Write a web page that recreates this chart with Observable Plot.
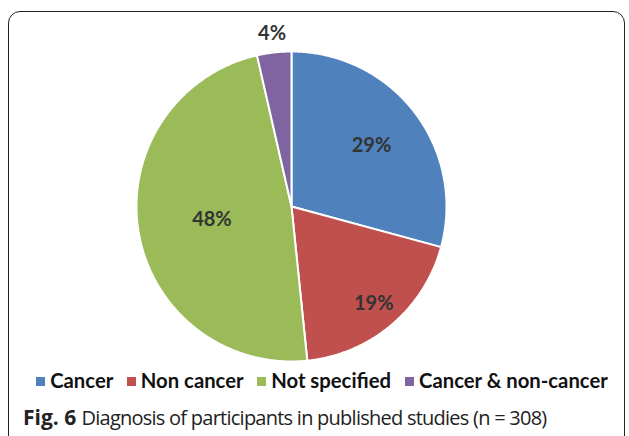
<!DOCTYPE html>
<html>
<head>
<meta charset="utf-8">
<script src="https://cdn.jsdelivr.net/npm/d3@7"></script>
<script src="https://cdn.jsdelivr.net/npm/@observablehq/plot@0.6"></script>
<style>
  html, body { margin: 0; padding: 0; background: #fff; }
  body { width: 629px; height: 436px; position: relative; overflow: hidden; }
  #frame {
    position: absolute; left: 8px; top: 11px; width: 617px; height: 440px;
    border: 1.6px solid #222; border-radius: 12px; box-sizing: border-box;
  }
  #chart { position: absolute; left: 0; top: 0; }
  #legend {
    position: absolute; left: 3px; width: 629px; top: 368px; text-align: center;
    font-family: Lato, sans-serif; font-weight: 700; font-size: 20.3px; line-height: 24px; color: #111;
    white-space: nowrap;
  }
  #legend span.sw { display: inline-block; width: 9px; height: 9px; margin: 0 5px 3px 9px; vertical-align: middle; }
  #caption {
    position: absolute; left: 23px; top: 403px; font-family: "Open Sans", sans-serif;
    font-size: 20px; line-height: 28px; color: #222; white-space: nowrap;
  }
  #caption b { font-weight: 700; font-size: 21px; letter-spacing: 0; }
  #caption span { letter-spacing: -0.75px; }
</style>
</head>
<body>
<div id="frame"></div>
<div id="chart"></div>
<div id="legend"></div>
<div id="caption"><b>Fig. 6</b> <span>Diagnosis of participants in published studies (n = 308)</span></div>
<script>
// Data
const categories = ["Cancer", "Non cancer", "Not specified", "Cancer & non-cancer"];
const counts = [90, 59, 148, 11];
const pctLabels = ["29%", "19%", "48%", "4%"];
const colors = ["#4F81BD", "#C0504D", "#9BBB59", "#8064A2"];
// label distance from centre as a fraction of the radius (layout)
const labelRadius = [0.65, 0.82, 0.52, 1.12];

const W = 629, H = 370, cx = 291, cy = 206, R = 155;

const total = d3.sum(counts);
let cum = 0;
const slices = categories.map((c, i) => {
  const a0 = cum / total * 2 * Math.PI;
  cum += counts[i];
  const a1 = cum / total * 2 * Math.PI;
  return {category: c, a0, a1, i};
});

function slicePoints(s) {
  const pts = [{x: 0, y: 0}];
  const n = Math.max(2, Math.ceil((s.a1 - s.a0) / (Math.PI / 360)));
  for (let k = 0; k <= n; k++) {
    const a = s.a0 + (s.a1 - s.a0) * k / n;
    pts.push({x: Math.sin(a), y: Math.cos(a)});
  }
  return pts;
}

const labelData = slices.map(s => {
  const m = (s.a0 + s.a1) / 2, r = labelRadius[s.i];
  return {x: r * Math.sin(m), y: r * Math.cos(m), text: pctLabels[s.i]};
});

const marks = slices.map(s => Plot.line(slicePoints(s), {
  x: "x", y: "y", curve: "linear-closed", fill: colors[s.i],
  stroke: "#fff", strokeWidth: 2, strokeLinejoin: "round"
}));
marks.push(Plot.text(labelData, {
  x: "x", y: "y", text: "text", fontSize: 20, fontWeight: 700,
  fill: "#333", fontFamily: "Lato, sans-serif"
}));

const plot = Plot.plot({
  width: W, height: H,
  marginTop: 0, marginRight: 0, marginBottom: 0, marginLeft: 0,
  x: {domain: [-cx / R, (W - cx) / R], axis: null},
  y: {domain: [-(H - cy) / R, cy / R], axis: null},
  style: {background: "transparent", overflow: "visible"},
  marks
});
document.getElementById("chart").appendChild(plot);

const legend = document.getElementById("legend");
categories.forEach((c, i) => {
  const sw = document.createElement("span");
  sw.className = "sw";
  sw.style.background = colors[i];
  legend.appendChild(sw);
  legend.appendChild(document.createTextNode(c + (i < categories.length - 1 ? " " : "")));
});
</script>
</body>
</html>
